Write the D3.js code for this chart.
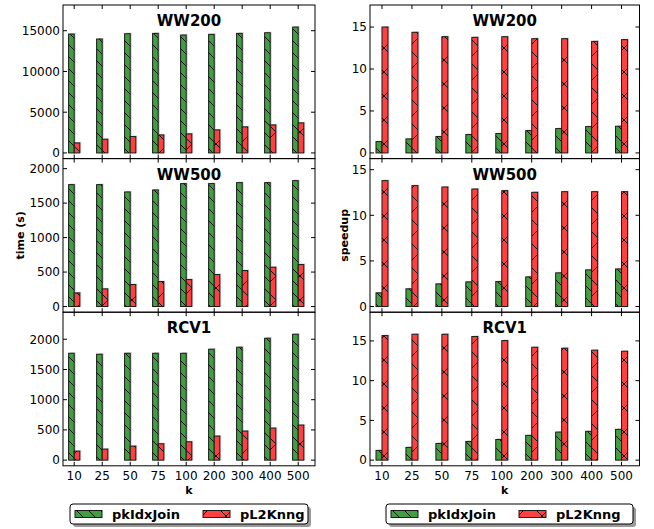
<!DOCTYPE html>
<html>
<head>
<meta charset="utf-8">
<script src="https://cdn.jsdelivr.net/npm/d3@7"></script>
<style>
  body { margin: 0; background: #fff; }
  svg { font-family: "DejaVu Sans", sans-serif; }
</style>
</head>
<body>
<svg id="chart" width="654" height="529"></svg>
<script>
// values
var ks = ["10", "25", "50", "75", "100", "200", "300", "400", "500"];
var seriesNames = ["pkIdxJoin", "pL2Knng"];

var timeWW200Idx = [14590, 13980, 14630, 14670, 14470, 14550, 14670, 14750, 15450];
var timeWW200L2  = [1230, 1680, 2010, 2210, 2340, 2830, 3200, 3440, 3690];
var timeWW500Idx = [1768, 1768, 1662, 1691, 1783, 1783, 1797, 1797, 1826];
var timeWW500L2  = [198, 256, 319, 362, 391, 464, 522, 570, 609];
var timeRCV1Idx  = [1768, 1752, 1768, 1768, 1768, 1835, 1868, 2017, 2083];
var timeRCV1L2   = [149, 182, 232, 271, 304, 398, 481, 530, 580];

var spWW200Idx = [1.35, 1.67, 1.95, 2.19, 2.31, 2.66, 2.90, 3.14, 3.18];
var spWW200L2  = [15.0, 14.37, 13.85, 13.77, 13.85, 13.61, 13.61, 13.29, 13.5];
var spWW500Idx = [1.50, 1.94, 2.48, 2.70, 2.74, 3.25, 3.69, 4.02, 4.12];
var spWW500L2  = [13.8, 13.25, 13.1, 12.88, 12.7, 12.52, 12.59, 12.59, 12.59];
var spRCV1Idx  = [1.22, 1.60, 2.10, 2.35, 2.60, 3.11, 3.53, 3.62, 3.87];
var spRCV1L2   = [15.67, 15.84, 15.84, 15.55, 15.04, 14.2, 14.08, 13.83, 13.7];

var timeTicks1 = [0, 5000, 10000, 15000];
var timeTicks2 = [0, 500, 1000, 1500, 2000];
var spTicks = [0, 5, 10, 15];

var columns = [
  { ylabel: "time (s)", labelOff: 39, left: 63, right: 315, legendX: 70, legendW: 238,
    rows: [
      { title: "WW200", a: timeWW200Idx, b: timeWW200L2, ticks: timeTicks1 },
      { title: "WW500", a: timeWW500Idx, b: timeWW500L2, ticks: timeTicks2 },
      { title: "RCV1",  a: timeRCV1Idx,  b: timeRCV1L2,  ticks: timeTicks2 }
    ] },
  { ylabel: "speedup", labelOff: 22, left: 370, right: 639.5, legendX: 386, legendW: 247,
    rows: [
      { title: "WW200", a: spWW200Idx, b: spWW200L2, ticks: spTicks },
      { title: "WW500", a: spWW500Idx, b: spWW500L2, ticks: spTicks },
      { title: "RCV1",  a: spRCV1Idx,  b: spRCV1L2,  ticks: spTicks }
    ] }
];

var green = "#40a040", red = "#ff4040", edge = "#1a1a1a";
var plotTop = 5, panelH = 153.6, barW = 0.2, tickLen = 4;

var svg = d3.select("#chart");
var defs = svg.append("defs");

// hatch patterns: "\" for green, "x" for red
function hatch(id, s, cross) {
  var p = defs.append("pattern").attr("id", id)
    .attr("patternUnits", "userSpaceOnUse").attr("width", s).attr("height", s);
  var d = "M0,0L" + s + "," + s + "M-2," + (s - 2) + "L2," + (s + 2) + "M" + (s - 2) + ",-2L" + (s + 2) + ",2";
  if (cross) d += "M0," + s + "L" + s + ",0M-2,2L2,-2M" + (s - 2) + "," + (s + 2) + "L" + (s + 2) + "," + (s - 2);
  p.append("path").attr("d", d).attr("stroke", "#000").attr("stroke-width", 0.9).attr("fill", "none");
}
hatch("hg", 12, false);
hatch("hr", 24, true);

columns.forEach(function(col) {
  var x = d3.scaleLinear().domain([-0.4, 8.6]).range([col.left, col.right]);
  var cx = (col.left + col.right) / 2;

  col.rows.forEach(function(row, r) {
    var y0 = plotTop + r * panelH, y1 = y0 + panelH;
    var mx = d3.max(row.a.concat(row.b));
    var y = d3.scaleLinear().domain([-0.045 * mx, 1.175 * mx]).range([y1, y0]);
    var g = svg.append("g");

    var pairs = [{ v: row.a, off: -barW, fill: green, pat: "url(#hg)" },
                 { v: row.b, off: 0, fill: red, pat: "url(#hr)" }];

    // shadows first
    pairs.forEach(function(s) {
      g.selectAll(null).data(s.v).enter().append("rect")
        .attr("x", function(d, i) { return x(i + s.off) + 1.5; })
        .attr("y", function(d) { return y(d) - 1; })
        .attr("width", x(barW) - x(0))
        .attr("height", function(d) { return y(0) - y(d) + 1; })
        .attr("fill", "#cfcfcf");
    });
    pairs.forEach(function(s) {
      var bars = g.selectAll(null).data(s.v).enter();
      bars.append("rect")
        .attr("x", function(d, i) { return x(i + s.off); })
        .attr("y", function(d) { return y(d); })
        .attr("width", x(barW) - x(0))
        .attr("height", function(d) { return y(0) - y(d); })
        .attr("fill", s.fill);
      bars.append("rect")
        .attr("x", function(d, i) { return x(i + s.off); })
        .attr("y", function(d) { return y(d); })
        .attr("width", x(barW) - x(0))
        .attr("height", function(d) { return y(0) - y(d); })
        .attr("fill", s.pat).attr("stroke", edge).attr("stroke-width", 1);
    });

    // frame
    g.append("rect").attr("x", col.left).attr("y", y0)
      .attr("width", col.right - col.left).attr("height", panelH)
      .attr("fill", "none").attr("stroke", "#000").attr("stroke-width", 1);

    // y ticks, inward on both sides
    row.ticks.forEach(function(t) {
      var ty = y(t);
      g.append("line").attr("x1", col.left).attr("x2", col.left + tickLen)
        .attr("y1", ty).attr("y2", ty).attr("stroke", "#000");
      g.append("line").attr("x1", col.right).attr("x2", col.right - tickLen)
        .attr("y1", ty).attr("y2", ty).attr("stroke", "#000");
      g.append("text").attr("x", col.left - 3).attr("y", ty).attr("dy", "0.36em")
        .attr("text-anchor", "end").attr("font-size", 12).text(t);
    });

    // x ticks, inward top and bottom
    ks.forEach(function(k, i) {
      g.append("line").attr("x1", x(i)).attr("x2", x(i))
        .attr("y1", y1).attr("y2", y1 - tickLen).attr("stroke", "#000");
      g.append("line").attr("x1", x(i)).attr("x2", x(i))
        .attr("y1", y0).attr("y2", y0 + tickLen).attr("stroke", "#000");
    });

    g.append("text").attr("x", cx).attr("y", y0 + 21)
      .attr("text-anchor", "middle").attr("font-size", 15).attr("font-weight", "bold")
      .text(row.title);
  });

  var bottom = plotTop + 3 * panelH;
  ks.forEach(function(k, i) {
    svg.append("text").attr("x", x(i)).attr("y", bottom + 14)
      .attr("text-anchor", "middle").attr("font-size", 12).text(k);
  });
  svg.append("text").attr("x", cx).attr("y", bottom + 28)
    .attr("text-anchor", "middle").attr("font-size", 11).attr("font-weight", "bold").text("k");

  svg.append("text")
    .attr("transform", "translate(" + (col.left - col.labelOff) + "," + (plotTop + 1.5 * panelH) + ") rotate(-90)")
    .attr("text-anchor", "middle").attr("font-size", 11).attr("font-weight", "bold")
    .attr("fill", "#000").text(col.ylabel);

  // legend
  var lg = svg.append("g").attr("transform", "translate(" + col.legendX + ",504)");
  lg.append("rect").attr("x", 3).attr("y", 3).attr("width", col.legendW).attr("height", 20)
    .attr("rx", 3).attr("fill", "#9a9a9a");
  lg.append("rect").attr("width", col.legendW).attr("height", 20)
    .attr("rx", 3).attr("fill", "#fff").attr("stroke", "#000").attr("stroke-width", 1);
  [{ fill: green, pat: "url(#hg)" }, { fill: red, pat: "url(#hr)" }].forEach(function(s, j) {
    var hx = 5 + j * 128;
    lg.append("rect").attr("x", hx).attr("y", 6.5).attr("width", 27).attr("height", 7).attr("fill", s.fill);
    lg.append("rect").attr("x", hx).attr("y", 6.5).attr("width", 27).attr("height", 7)
      .attr("fill", s.pat).attr("stroke", edge);
    lg.append("text").attr("x", hx + 37).attr("y", 15).attr("font-size", 13)
      .attr("font-weight", "bold").text(seriesNames[j]);
  });
});
</script>
</body>
</html>
